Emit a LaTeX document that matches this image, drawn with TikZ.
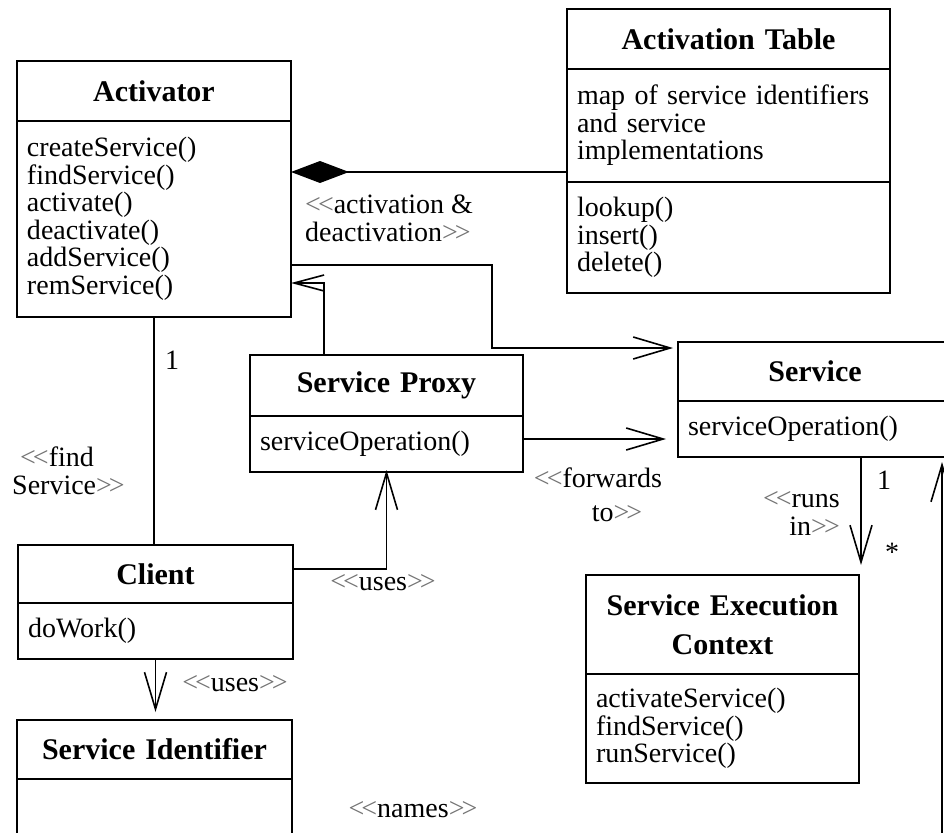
\documentclass[tikz,border=0pt]{standalone}
\usepackage{fontspec}
\setmainfont{Liberation Serif}
\usetikzlibrary{arrows.meta}
\newcommand\lgl{{\color{black!55}<\kern-3pt<}}
\newcommand\lgr{{\color{black!55}>\kern-3pt>}}
\tikzset{
  box/.style={draw, line width=1.6pt, anchor=north west, inner xsep=10pt, inner ysep=0pt, outer sep=0pt, text width=#1},
  box/.default=254pt,
  ttl/.style={box=#1, align=center, font=\fontsize{30}{39}\selectfont\bfseries},
  ttl/.default=254pt,
  ops/.style={box=#1, align=left, font=\fontsize{28}{27.5}\selectfont},
  ops/.default=254pt,
  conn/.style={line width=1.6pt},
  arr/.style={-{Straight Barb[length=37pt,width=22pt,line width=1.6pt]}},
  arrs/.style={-{Straight Barb[length=30pt,width=16pt,line width=1.6pt]}},
  comp/.style={-{Diamond[length=58pt,width=22pt]}},
  lbl/.style={inner sep=0pt, font=\fontsize{28}{28}\selectfont},
}
\begin{document}
\begin{tikzpicture}[x=1pt,y=1pt]
\useasboundingbox (0,0) rectangle (944,-832);
\clip (0,0) rectangle (944,-832);

% Activator
\node[ttl, minimum height=60pt] (act) at (17,-61) {Activator};
\node[ops, minimum height=196pt] (act2) at (act.south west) {createService()\\findService()\\activate()\\deactivate()\\addService()\\remService()};

% Activation Table
\node[ttl=303pt, minimum height=60pt] (at) at (567,-9) {Activation Table};
\node[ops=303pt, minimum height=113pt] (at2) at (at.south west) {map of service identifiers\\and service\\implementations};
\node[ops=303pt, minimum height=111pt] (at3) at (at2.south west) {lookup()\\insert()\\delete()};

% Service Proxy
\node[ttl=253pt, minimum height=61pt] (proxy) at (250,-355) {Service Proxy};
\node[ops=253pt, minimum height=56pt] (proxy2) at (proxy.south west) {serviceOperation()};

% Service
\node[ttl, minimum height=59pt] (serv) at (678,-342) {Service};
\node[ops, minimum height=56pt] (serv2) at (serv.south west) {serviceOperation()};

% Client
\node[ttl=255pt, minimum height=58pt] (client) at (18,-545) {Client};
\node[ops=255pt, minimum height=56pt] (client2) at (client.south west) {doWork()};

% Service Execution Context
\node[ttl=253pt, minimum height=99pt] (sec) at (586,-575) {Service Execution\\Context};
\node[ops=253pt, minimum height=109pt] (sec2) at (sec.south west) {activateService()\\findService()\\runService()};

% Service Identifier
\node[ttl=255pt, minimum height=59pt] (si) at (17,-720) {Service Identifier};
\node[ops=255pt, minimum height=90pt] (si2) at (si.south west) {};

% connectors
\draw[conn, comp] (at2.west |- 0,-172) -- (act2.east |- 0,-172);
\draw[conn, arr, shorten >=5pt] (act2.east |- 0,-265) -| (492,-348) -- (serv.west |- 0,-348);
\draw[conn, arrs] ([xshift=74pt]proxy.north west) |- (act2.east |- 0,-283);
\draw[conn, arr, shorten >=12pt] ([yshift=5pt]proxy2.east) -- (serv2.west |- 0,-439);
\draw[conn] (act2.south) -- (act2.south |- client.north);
\draw[conn, arr, shorten >=-2pt] ([yshift=5pt]client.east) -| (proxy2.south);
\draw[conn, arr, shorten >=8pt] (client2.south) -- (client2.south |- si.north);
\draw[conn, arr, shorten >=10pt] ([xshift=2pt]serv2.south -| sec.east) -- ([xshift=2pt]sec.north east);
\coordinate (nmend) at (942,-860);
\draw[conn, arr, shorten >=5pt] (nmend) -- (serv2.south -| nmend);

% labels
\node[lbl] (m1) at (172,-360) {1};
\node[lbl, align=left, anchor=west] (lfind) at (12,-471) {\hspace{8pt}\lgl find\\Service\lgr};
\node[lbl, align=left, anchor=west] (lact) at (305,-218) {\lgl activation \&\\deactivation\lgr};
\node[lbl, align=center] (lfwd) at (598,-495) {\lgl forwards\\[6pt]\hspace{38pt}to\lgr};
\node[lbl, align=right, anchor=east] (lruns) at (840,-513) {\lgl runs\hspace{17pt}\\in\lgr};
\node[lbl] (m2) at (884,-480) {1};
\node[lbl] (m3) at (892,-552) {*};
\node[lbl] (luses1) at (383,-583) {\lgl uses\lgr};
\node[lbl] (luses2) at (235,-684) {\lgl uses\lgr};
\node[lbl] (lnames) at (413,-810) {\lgl names\lgr};
\end{tikzpicture}
\end{document}
